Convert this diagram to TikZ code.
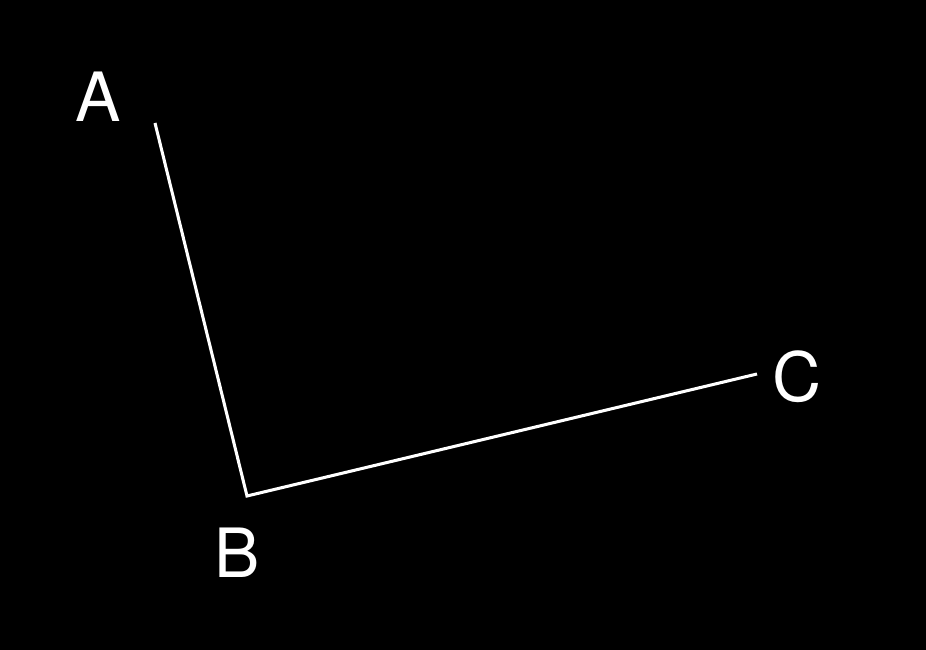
\documentclass[tikz,border=0pt]{standalone}
\usepackage{fontspec}
\setsansfont{TeX Gyre Heros}
\begin{document}
\begin{tikzpicture}[
    x=0.03cm, y=0.03cm,              % 1 drawing unit = 1 px of the reference
    font=\sffamily\fontsize{58}{60}\selectfont,
    leg/.style={draw=white,line width=2.6pt,line join=miter},
    lbl/.style={text=white,inner sep=0pt},
  ]
  %% ---------------- background ----------------
  \fill[black] (0,0) rectangle (926,650);
  \useasboundingbox (0,0) rectangle (926,650);

  %% ---------------- vertices ----------------
  \coordinate (a) at (155,527);
  \coordinate (b) at (247,154);
  \coordinate (c) at (757,276);

  %% ---------------- labels ----------------
  \node[lbl] (labA) at (98,553) {A};
  \node[lbl] (labB) at (237,97) {B};
  \node[lbl] (labC) at (797,273) {C};

  %% ---------------- angle ----------------
  \draw[leg] (a) -- (b) -- (c);
\end{tikzpicture}
\end{document}
